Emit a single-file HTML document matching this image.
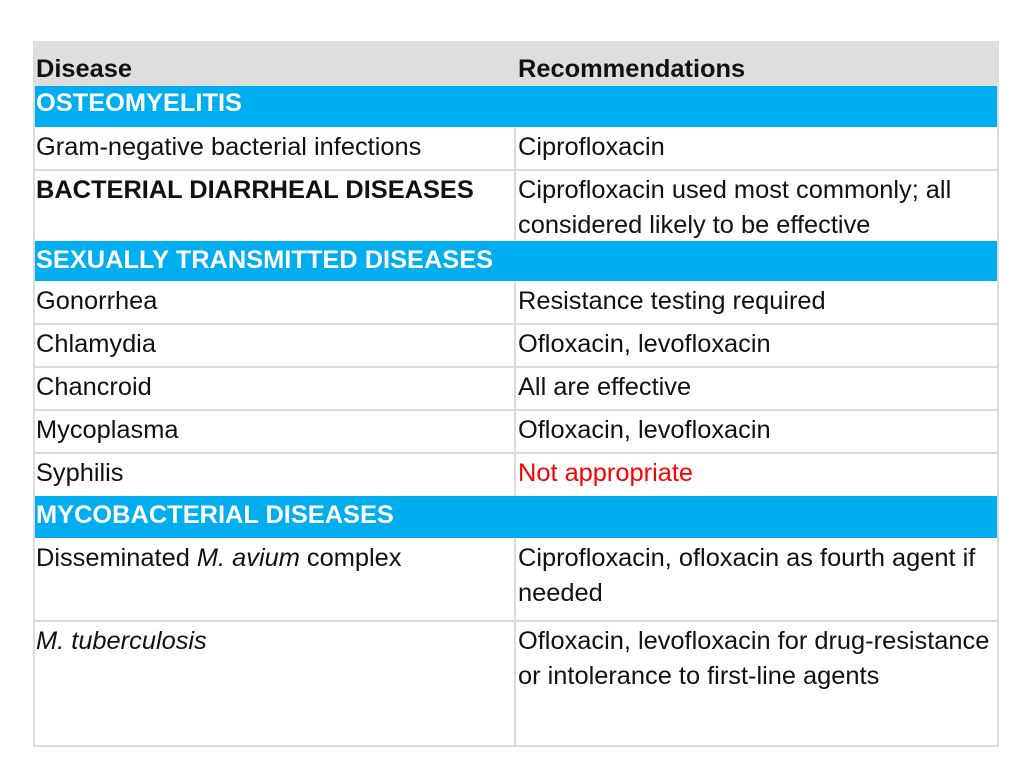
<!DOCTYPE html>
<html><head><meta charset="utf-8"><style>
body{margin:0;width:1024px;height:768px;background:#fff;font-family:"Liberation Sans",Arial,sans-serif;position:relative;overflow:hidden}
.r{position:absolute;left:33px;width:966px;box-sizing:border-box}
.c{position:absolute;font-size:25.4px;line-height:35px;color:#111;white-space:nowrap}
.b{font-weight:bold}
.sec{background:#00aeef;color:#fff}
.line{position:absolute;background:#dcdcdc}
</style></head><body>
<div>
<div class="r" style="top:41px;height:45px;background:#dedede"></div>
<div class="r sec" style="top:86px;height:41px"></div>
<div class="r sec" style="top:241px;height:40px"></div>
<div class="r sec" style="top:496px;height:42px"></div>
<div class="line" style="left:33px;top:41px;width:2px;height:705px"></div>
<div class="line" style="left:997px;top:41px;width:2px;height:705px"></div>
<div class="line" style="left:33px;top:745px;width:966px;height:2px"></div>
<div class="line" style="left:514px;top:127px;width:2px;height:114px"></div>
<div class="line" style="left:514px;top:281px;width:2px;height:215px"></div>
<div class="line" style="left:514px;top:538px;width:2px;height:208px"></div>
<div class="line" style="left:33px;top:169px;width:966px;height:2px"></div>
<div class="line" style="left:33px;top:323px;width:966px;height:2px"></div>
<div class="line" style="left:33px;top:366px;width:966px;height:2px"></div>
<div class="line" style="left:33px;top:409px;width:966px;height:2px"></div>
<div class="line" style="left:33px;top:452px;width:966px;height:2px"></div>
<div class="line" style="left:33px;top:620px;width:966px;height:2px"></div>

<div class="c b" style="left:36px;top:52px">Disease</div>
<div class="c b" style="left:518px;top:52px">Recommendations</div>
<div class="c b" style="left:36px;top:86px;color:#fff">OSTEOMYELITIS</div>
<div class="c" style="left:36px;top:130px">Gram-negative bacterial infections</div>
<div class="c" style="left:518px;top:130px">Ciprofloxacin</div>
<div class="c b" style="left:36px;top:173px">BACTERIAL DIARRHEAL DISEASES</div>
<div class="c" style="left:518px;top:173px">Ciprofloxacin used most commonly; all<br>considered likely to be effective</div>
<div class="c b" style="left:36px;top:243px;color:#fff">SEXUALLY TRANSMITTED DISEASES</div>
<div class="c" style="left:36px;top:284px">Gonorrhea</div>
<div class="c" style="left:518px;top:284px">Resistance testing required</div>
<div class="c" style="left:36px;top:327px">Chlamydia</div>
<div class="c" style="left:518px;top:327px">Ofloxacin, levofloxacin</div>
<div class="c" style="left:36px;top:370px">Chancroid</div>
<div class="c" style="left:518px;top:370px">All are effective</div>
<div class="c" style="left:36px;top:413px">Mycoplasma</div>
<div class="c" style="left:518px;top:413px">Ofloxacin, levofloxacin</div>
<div class="c" style="left:36px;top:456px">Syphilis</div>
<div class="c" style="left:518px;top:456px;color:#f00">Not appropriate</div>
<div class="c b" style="left:36px;top:498px;color:#fff">MYCOBACTERIAL DISEASES</div>
<div class="c" style="left:36px;top:541px">Disseminated <i>M. avium</i> complex</div>
<div class="c" style="left:518px;top:541px">Ciprofloxacin, ofloxacin as fourth agent if<br>needed</div>
<div class="c" style="left:36px;top:624px"><i>M. tuberculosis</i></div>
<div class="c" style="left:518px;top:624px">Ofloxacin, levofloxacin for drug-resistance<br>or intolerance to first-line agents</div>
</div>
</body></html>
